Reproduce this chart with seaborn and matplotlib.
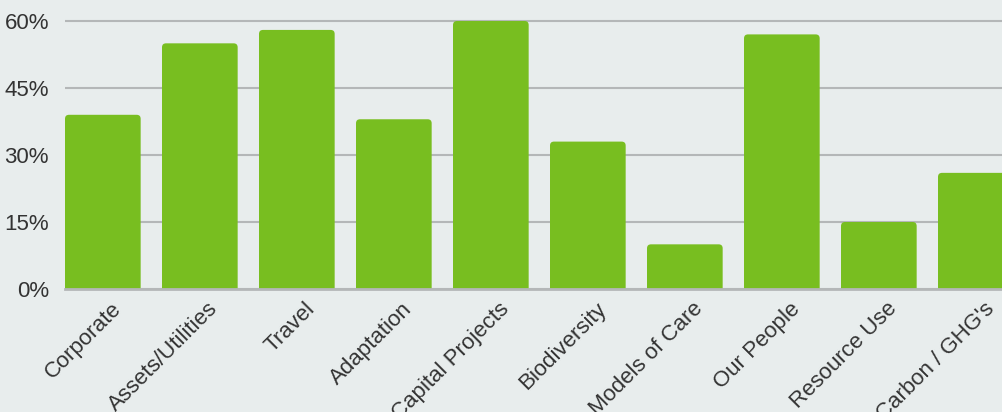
import numpy as np
import pandas as pd
import seaborn as sns
import matplotlib.pyplot as plt
import matplotlib.transforms as mtransforms
from matplotlib.patches import FancyBboxPatch
from matplotlib.ticker import FuncFormatter

categories = ['Corporate', 'Assets/Utilities', 'Travel', 'Adaptation', 'Capital Projects',
              'Biodiversity', 'Models of Care', 'Our People', 'Resource Use', 'Carbon / GHG\'s']
values = [39, 55, 58, 38, 60, 33, 10, 57, 15, 26]

BG = '#e8eded'
BAR = '#78be20'
GRID = '#b4b7b8'
TXT = '#333333'

sns.set_theme(style='white')
plt.rcParams['font.family'] = ['Liberation Sans', 'DejaVu Sans']

df = pd.DataFrame({'cat': categories, 'val': values})

fig = plt.figure(figsize=(10.03, 4.12), dpi=100, facecolor=BG)
ax = fig.add_axes([65 / 1003, 123 / 412, 1 - 65 / 1003, 1 - 123 / 412])
ax.set_facecolor(BG)

sns.barplot(data=df, x='cat', y='val', color=BAR, width=0.78, saturation=1, ax=ax)

ax.set_xlim(-0.39, 9.28)
ax.set_ylim(0, 64.7)

# swap plain bars for rounded ones
bbox = ax.get_window_extent()
px_x = bbox.width / (9.28 + 0.39)
px_y = bbox.height / 64.7
aspect = px_x / px_y
r = 4 / px_x
for p in list(ax.patches):
    x0, w, h = p.get_x(), p.get_width(), p.get_height()
    p.remove()
    fb = FancyBboxPatch((x0, -5), w, h + 5,
                        boxstyle='round,pad=0,rounding_size=%f' % r,
                        mutation_aspect=aspect, facecolor=BAR, edgecolor='none',
                        zorder=2)
    ax.add_patch(fb)

ax.set_yticks([0, 15, 30, 45, 60])
ax.yaxis.set_major_formatter(FuncFormatter(lambda v, _: '%d%%' % v))
ax.grid(axis='y', color=GRID, linewidth=1.5)
ax.set_axisbelow(True)
for s in ['top', 'right', 'left']:
    ax.spines[s].set_visible(False)
ax.spines['bottom'].set_color(GRID)
ax.spines['bottom'].set_linewidth(2)
ax.spines['bottom'].set_zorder(3)

ax.tick_params(axis='both', length=0, labelsize=16, labelcolor=TXT)
ax.tick_params(axis='y', pad=11.5)
ax.tick_params(axis='x', pad=12)
shift = mtransforms.ScaledTranslation(15 / 100, 0, fig.dpi_scale_trans)
for lab in ax.get_xticklabels():
    lab.set_rotation(45)
    lab.set_ha('right')
    lab.set_va('center')
    lab.set_rotation_mode('anchor')
    lab.set_transform(lab.get_transform() + shift)
ax.set_xlabel('')
ax.set_ylabel('')

plt.savefig('out.png', dpi=100, facecolor=BG)
